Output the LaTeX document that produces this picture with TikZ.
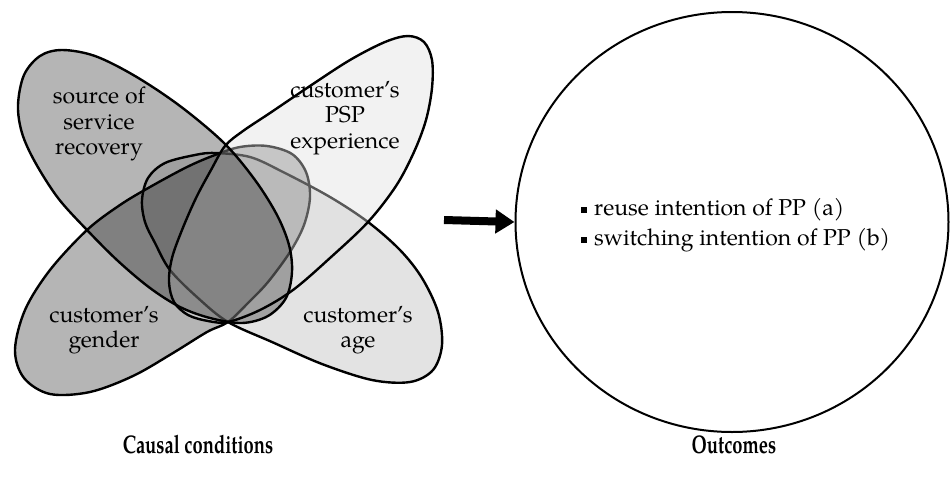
\documentclass[tikz,border=0pt]{standalone}
\usepackage{fontspec}
\setmainfont{TeX Gyre Pagella}
\usetikzlibrary{arrows.meta,shapes.geometric}
\newcommand{\narrowcaption}[1]{\scalebox{0.72}[1]{#1}}
\begin{document}
\begin{tikzpicture}[x=1pt,y=-1pt,
  outline/.style={draw=black, line width=2.4pt, line join=round},
  darkset/.style={outline, fill=black, fill opacity=0.29},
  midset/.style={outline, fill=black, fill opacity=0.11},
  veilset/.style={outline, fill=black!12.5, fill opacity=0.40},
  label/.style={font=\fontsize{23}{25.5}\selectfont, align=center, inner sep=0pt},
  caption/.style={font=\fontsize{25.5}{28}\selectfont\bfseries, inner sep=0pt},
  bigarrow/.style={line width=8pt, -{Triangle[length=19pt,width=23pt]}},
  item/.style={font=\fontsize{23}{30}\selectfont, align=left, inner sep=0pt}
]
\useasboundingbox (0,0) rectangle (951,477);

% customer's gender (lower left)
\draw[darkset] plot[smooth cycle, tension=0.55] coordinates {
  (87,230) (120,205) (150,187) (187,167) (215,155) (240,147) (267,146)
  (292,154) (306,172) (310,197) (304,225) (290,252) (268,282) (248,303)
  (228,322) (207,332) (173,353) (133,376) (90,392) (50,394) (24,378)
  (15,350) (25,310) (50,270)};

% customer's age (lower right)
\draw[midset] plot[smooth cycle, tension=0.55] coordinates {
  (142,200) (148,178) (165,163) (195,155) (215,153) (250,157) (283,172)
  (330,197) (368,222) (400,250) (422,278) (438,312) (442,345) (433,370)
  (410,382) (372,380) (322,364) (272,342) (228,322) (198,298) (170,270)
  (155,243) (145,222)};

% customer's PSP experience (upper right), light veil over the sets below
\draw[veilset] plot[smooth cycle, tension=0.55] coordinates {
  (225,146) (243,131) (270,113) (310,86) (350,60) (385,42) (408,36)
  (424,42) (432,60) (432,88) (426,120) (414,152) (396,186) (368,222)
  (330,258) (293,290) (260,310) (228,322) (208,321) (188,315) (174,302)
  (169,282) (172,258) (182,230) (196,198) (211,170)};

% source of service recovery (upper left)
\draw[darkset] plot[smooth cycle, tension=0.55] coordinates {
  (18,105) (24,75) (40,56) (62,50) (95,56) (135,76) (180,106) (224,143)
  (255,180) (277,215) (289,245) (292,272) (286,298) (268,316) (242,323)
  (210,318) (180,307) (150,288) (118,261) (87,230) (58,198) (35,162)
  (22,133)};

% set labels
\node[label] (ssr) at (99,124) {source of\\service\\recovery};
\node[label] (psp) at (345,118) {customer's\\PSP\\experience};
\node[label] (gender) at (104,330) {customer's\\gender};
\node[label] (age) at (358,330) {customer's\\age};

% outcomes
\node[draw=black, line width=2pt, ellipse, minimum width=433pt,
      minimum height=420pt, inner sep=0pt] (outcomes) at (732,222) {};
\node[item, anchor=west] (items) at (581,225)
  {\rule[2pt]{6pt}{6.5pt}\hspace{7pt}reuse intention of PP (a)\\
   \rule[2pt]{6pt}{6.5pt}\hspace{7pt}switching intention of PP (b)};

% arrow from the causal conditions to the outcomes
\coordinate (arrowtail) at (444,220);
\draw[bigarrow] (arrowtail) -- (outcomes.west);

% captions
\node[caption] (causal) at (198,445) {\narrowcaption{Causal conditions}};
\node[caption] (outcap) at (734,445) {\narrowcaption{Outcomes}};
\end{tikzpicture}
\end{document}
